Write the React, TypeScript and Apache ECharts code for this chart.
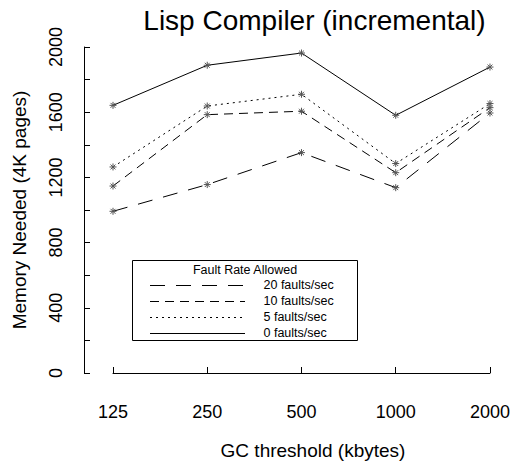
import React, { useEffect, useRef } from "react";
import * as echarts from "echarts";

const categories = ["125", "250", "500", "1000", "2000"];
const seriesNames = ["20 faults/sec", "10 faults/sec", "5 faults/sec", "0 faults/sec"];
const faults20 = [992, 1156, 1352, 1137, 1595];
const faults10 = [1147, 1585, 1606, 1229, 1628];
const faults5 = [1264, 1638, 1710, 1285, 1653];
const faults0 = [1642, 1888, 1963, 1581, 1877];
const seriesValues = [faults20, faults10, faults5, faults0];
const dashes: (number[] | "solid")[] = [[15, 11], [9, 6], [2, 4], "solid"];

const FONT = "'Liberation Sans', Arial, Helvetica, sans-serif";
const STAR = "path://M5,0L5,10M0,5L10,5M1.5,1.5L8.5,8.5M1.5,8.5L8.5,1.5";

export default function App() {
  const ref = useRef<HTMLDivElement>(null);
  useEffect(() => {
    if (!ref.current) return;
    const chart = echarts.init(ref.current, null, { renderer: "svg" });
    const legendRows = [285, 301, 317, 333];
    const legendGraphics: any[] = [
      {
        type: "rect",
        shape: { x: 132.5, y: 260.5, width: 225, height: 80 },
        style: { fill: "#fff", stroke: "#000", lineWidth: 1 },
        z: 100,
      },
      {
        type: "text",
        style: {
          text: "Fault Rate Allowed",
          x: 245,
          y: 269.5,
          align: "center",
          verticalAlign: "middle",
          font: `12.5px ${FONT}`,
          fill: "#000",
        },
        z: 101,
      },
    ];
    seriesNames.forEach((n, i) => {
      legendGraphics.push({
        type: "line",
        shape: { x1: 150, y1: legendRows[i] + 0.5, x2: 245, y2: legendRows[i] + 0.5 },
        style: {
          stroke: "#000",
          lineWidth: 1,
          lineDash: dashes[i] === "solid" ? null : (dashes[i] as number[]),
        },
        z: 101,
      });
      legendGraphics.push({
        type: "text",
        style: {
          text: n,
          x: 263.5,
          y: legendRows[i],
          align: "left",
          verticalAlign: "middle",
          font: `12.5px ${FONT}`,
          fill: "#000",
        },
        z: 101,
      });
    });

    chart.setOption({
      animation: false,
      backgroundColor: "#fff",
      grid: { left: 113, right: 23, top: 47, bottom: 93, containLabel: false },
      xAxis: {
        type: "category",
        data: categories,
        boundaryGap: false,
        offset: 8,
        axisLine: { lineStyle: { color: "#000", width: 1 } },
        axisTick: { inside: true, length: 6, lineStyle: { color: "#000" } },
        axisLabel: { margin: 22, color: "#000", fontSize: 18, fontFamily: FONT },
        splitLine: { show: false },
      },
      yAxis: {
        type: "value",
        min: 0,
        max: 2000,
        interval: 200,
        offset: 29,
        name: "Memory Needed (4K pages)",
        nameLocation: "middle",
        nameGap: 55,
        nameTextStyle: { color: "#000", fontSize: 19, fontFamily: FONT },
        axisLine: { show: true, lineStyle: { color: "#000", width: 1 } },
        axisTick: { show: true, inside: true, length: 6, lineStyle: { color: "#000" } },
        axisLabel: {
          rotate: 90,
          margin: 19,
          color: "#000",
          fontSize: 18,
          fontFamily: FONT,
          formatter: (v: number) => (v % 400 === 0 ? String(v) : ""),
        },
        splitLine: { show: false },
      },
      series: seriesNames.map((n, i) => ({
        name: n,
        type: "line",
        data: seriesValues[i],
        symbol: STAR,
        symbolSize: 7,
        itemStyle: { color: "none", borderColor: "#555", borderWidth: 1 },
        lineStyle: { color: "#000", width: 1, type: dashes[i] },
        emphasis: { disabled: true },
      })),
      graphic: [
        {
          type: "text",
          style: {
            text: "Lisp Compiler (incremental)",
            x: 314.5,
            y: 20.3,
            align: "center",
            verticalAlign: "middle",
            font: `28px ${FONT}`,
            fill: "#000",
          },
        },
        {
          type: "text",
          style: {
            text: "GC threshold (kbytes)",
            x: 313,
            y: 450,
            align: "center",
            verticalAlign: "middle",
            font: `19px ${FONT}`,
            fill: "#000",
          },
        },
        ...legendGraphics,
      ],
    });
    return () => chart.dispose();
  }, []);
  return (
    <div
      ref={ref}
      style={{ position: "fixed", left: 0, top: 0, width: 513, height: 466 }}
    />
  );
}
